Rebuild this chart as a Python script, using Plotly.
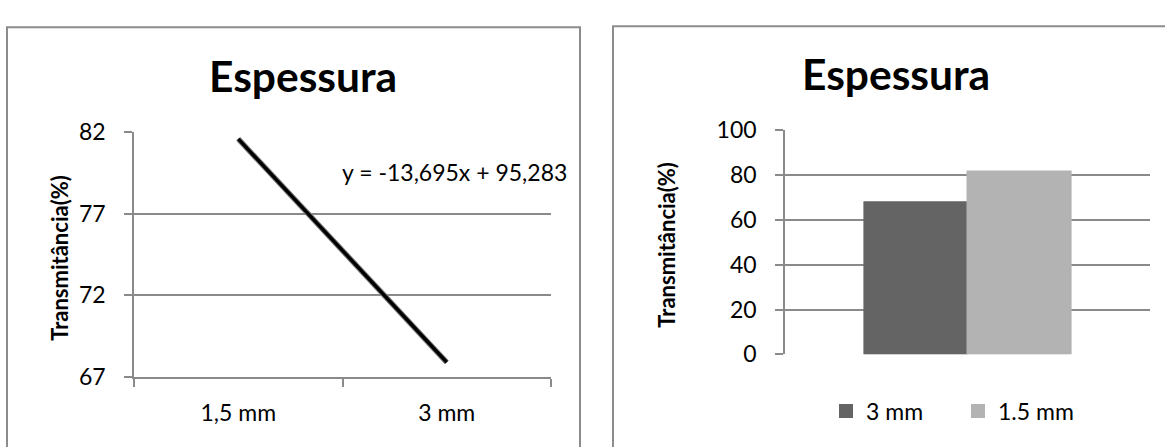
import plotly.graph_objects as go

W, H = 1165, 447

# ---- data ----
line_categories = ["1,5 mm", "3 mm"]
line_values = [81.588, 67.893]
line_yticks = [67, 72, 77, 82]
trend_equation = "y = -13,695x + 95,283"

bar_category = ["Espessura"]
bar_series_names = ["3 mm", "1.5 mm"]
bar_series_values = [[67.893], [81.588]]
bar_colors = ["#646464", "#b3b3b3"]
bar_yticks = [0, 20, 40, 60, 80, 100]

chart_title = "Espessura"
y_title = "Transmitância(%)"

FONT = "Lato"
GRID = "#8a8a8a"

def px(x):
    return x / W

def py(y):
    return 1 - y / H

fig = go.Figure()

# left chart: line (with grey halo like the original rendering)
fig.add_trace(go.Scatter(x=line_categories, y=line_values, mode="lines",
                         line=dict(color="#7a7a7a", width=5.5),
                         xaxis="x", yaxis="y", showlegend=False, hoverinfo="skip"))
fig.add_trace(go.Scatter(x=line_categories, y=line_values, mode="lines",
                         line=dict(color="#000000", width=3.4),
                         xaxis="x", yaxis="y", showlegend=False))

# right chart: bars
for name, vals, col in zip(bar_series_names, bar_series_values, bar_colors):
    fig.add_trace(go.Bar(x=bar_category, y=vals, name=name,
                         marker=dict(color=col, line=dict(width=2, color=col)),
                         xaxis="x2", yaxis="y2"))

tickfont = dict(family=FONT, size=23, color="#000000")

fig.update_layout(
    width=W, height=H,
    margin=dict(l=0, r=0, t=0, b=0),
    paper_bgcolor="white", plot_bgcolor="white",
    barmode="group", bargap=0.435, bargroupgap=0,
    xaxis=dict(domain=[px(134), px(551)], type="category", categoryorder="array",
               categoryarray=line_categories, range=[-0.5, 1.5],
               tickson="boundaries", ticks="outside", ticklen=8, tickcolor=GRID, tickwidth=1.5,
               showline=True, linecolor=GRID, linewidth=1.5, showgrid=False, zeroline=False,
               tickfont=tickfont, ticklabelstandoff=15, anchor="y"),
    yaxis=dict(domain=[py(386), py(125)], range=[67, 82], tickvals=line_yticks,
               showgrid=True, gridcolor=GRID, gridwidth=1.5, zeroline=False,
               ticks="outside", ticklen=8, tickcolor=GRID, tickwidth=1.5,
               showline=True, linecolor=GRID, linewidth=1.5,
               tickfont=tickfont, ticklabelstandoff=14, anchor="x"),
    xaxis2=dict(domain=[px(785), px(1150)], type="category", showticklabels=False,
                ticks="", showline=False, showgrid=False, zeroline=False, anchor="y2"),
    yaxis2=dict(domain=[py(362), py(123)], range=[0, 100], tickvals=bar_yticks,
                showgrid=True, gridcolor=GRID, gridwidth=1.5, zeroline=False,
                ticks="outside", ticklen=8, tickcolor=GRID, tickwidth=1.5,
                showline=True, linecolor=GRID, linewidth=1.5,
                tickfont=tickfont, ticklabelstandoff=14, anchor="x2"),
    legend=dict(orientation="h", x=px(826), xanchor="left", y=py(422.5), yanchor="middle",
                font=tickfont, entrywidthmode="pixels", entrywidth=87,
                bgcolor="rgba(0,0,0,0)", traceorder="normal"),
    showlegend=True,
)

# chart titles and axis titles
fig.add_annotation(x=px(303), y=py(65), xref="paper", yref="paper", text=f"<b>{chart_title}</b>",
                   showarrow=False, font=dict(family=FONT, size=42.5, color="#000000"),
                   xanchor="center", yanchor="middle")
fig.add_annotation(x=px(896), y=py(62.5), xref="paper", yref="paper", text=f"<b>{chart_title}</b>",
                   showarrow=False, font=dict(family=FONT, size=42.5, color="#000000"),
                   xanchor="center", yanchor="middle")
fig.add_annotation(x=px(60), y=py(259), xref="paper", yref="paper", text=f"<b>{y_title}</b>",
                   showarrow=False, textangle=-90, font=dict(family=FONT, size=22, color="#000000"),
                   xanchor="center", yanchor="middle")
fig.add_annotation(x=px(667), y=py(245), xref="paper", yref="paper", text=f"<b>{y_title}</b>",
                   showarrow=False, textangle=-90, font=dict(family=FONT, size=22, color="#000000"),
                   xanchor="center", yanchor="middle")
fig.add_annotation(x=px(340), y=py(168), xref="paper", yref="paper", text=trend_equation,
                   showarrow=False, font=dict(family=FONT, size=23, color="#000000"),
                   xanchor="left", yanchor="middle")

# chart-area borders
fig.add_shape(type="rect", xref="paper", yref="paper", x0=px(7), x1=px(580), y0=-0.1, y1=py(13),
              line=dict(color="#8c8c8c", width=2))
fig.add_shape(type="rect", xref="paper", yref="paper", x0=px(613), x1=1.1, y0=-0.1, y1=py(12),
              line=dict(color="#8c8c8c", width=2))

fig.write_html("out.html")
